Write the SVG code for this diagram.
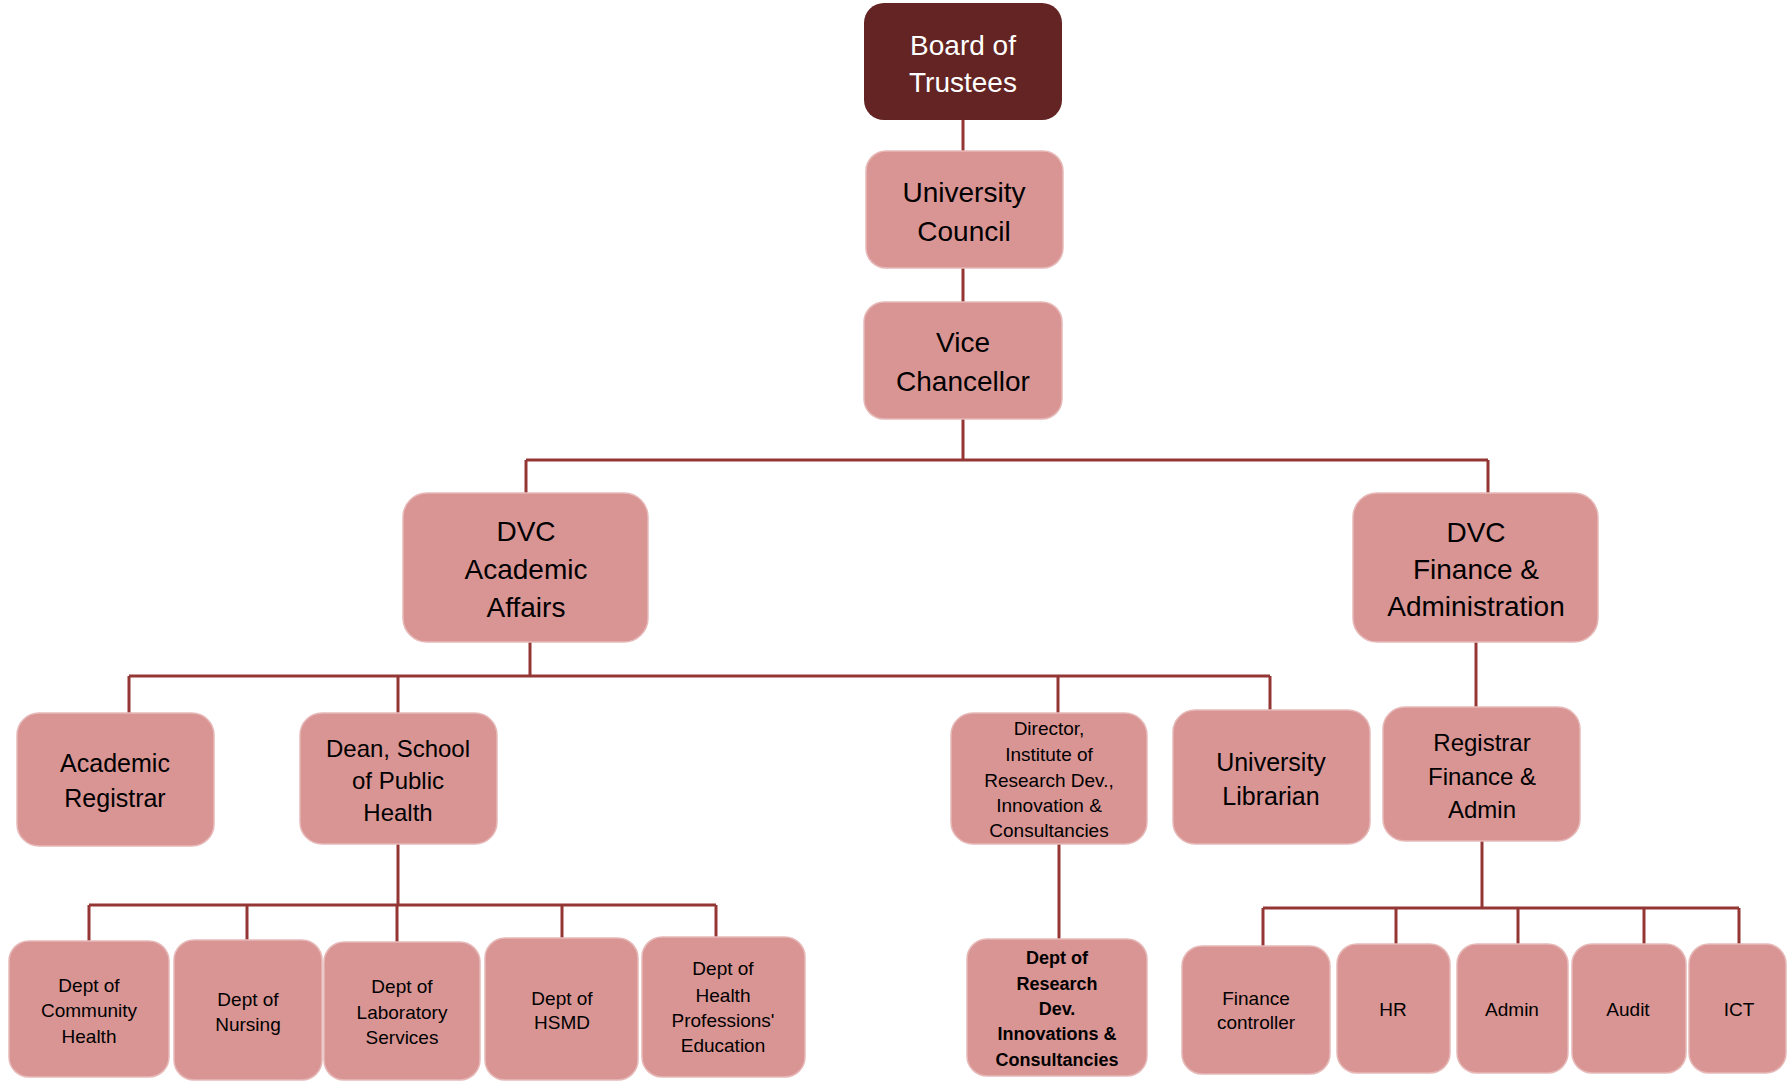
<svg xmlns="http://www.w3.org/2000/svg" width="1787" height="1081" viewBox="0 0 1787 1081">
<style>
.n{fill:#d99594;stroke:#e6b9b8;stroke-width:1.5}
.d{fill:#632423}
text{font-family:"Liberation Sans",Arial,sans-serif;text-anchor:middle;fill:#000}
.w{fill:#fff}
.b{font-weight:bold}
#conn path{fill:none;stroke:#943634;stroke-width:3}
</style>
<rect width="1787" height="1081" fill="#fff"/>
<g id="conn">
<path d="M963 120V151M963 268V302M963 419V460M526 460H1488M526 460V493M1488 460V493"/>
<path d="M530 642V676M129 676H1270M129 676V713M398 676V713M1058 676V713M1270 676V710"/>
<path d="M1476 642V707"/>
<path d="M398 844V905M89 905H716M89 905V941M247 905V940M397 905V942M562 905V938M716 905V937"/>
<path d="M1059 844V939"/>
<path d="M1482 841V908M1263 908H1739M1263 908V946M1396 908V944M1518 908V944M1644 908V944M1739 908V944"/>
</g>
<g id="board"><rect class="d" x="864" y="3" width="198" height="117" rx="20"/><text class="w" font-size="28"><tspan x="963" y="55">Board of</tspan><tspan x="963" y="92">Trustees</tspan></text></g>
<g id="uc"><rect class="n" x="866" y="151" width="197" height="117" rx="20"/><text font-size="28"><tspan x="964" y="202">University</tspan><tspan x="964" y="241">Council</tspan></text></g>
<g id="vc"><rect class="n" x="864" y="302" width="198" height="117" rx="20"/><text font-size="28"><tspan x="963" y="352">Vice</tspan><tspan x="963" y="391">Chancellor</tspan></text></g>
<g id="dvcaa"><rect class="n" x="403" y="493" width="245" height="149" rx="24"/><text font-size="28"><tspan x="526" y="541">DVC</tspan><tspan x="526" y="579">Academic</tspan><tspan x="526" y="617">Affairs</tspan></text></g>
<g id="dvcfa"><rect class="n" x="1353" y="493" width="245" height="149" rx="24"/><text font-size="28"><tspan x="1476" y="542">DVC</tspan><tspan x="1476" y="579">Finance &amp;</tspan><tspan x="1476" y="616">Administration</tspan></text></g>
<g id="ar"><rect class="n" x="17" y="713" width="197" height="133" rx="22"/><text font-size="25"><tspan x="115" y="772">Academic</tspan><tspan x="115" y="807">Registrar</tspan></text></g>
<g id="dean"><rect class="n" x="300" y="713" width="197" height="131" rx="22"/><text font-size="24"><tspan x="398" y="757">Dean, School</tspan><tspan x="398" y="789">of Public</tspan><tspan x="398" y="821">Health</tspan></text></g>
<g id="dir"><rect class="n" x="951" y="713" width="196" height="131" rx="22"/><text font-size="19"><tspan x="1049" y="735">Director,</tspan><tspan x="1049" y="761">Institute of</tspan><tspan x="1049" y="787">Research Dev.,</tspan><tspan x="1049" y="812">Innovation &amp;</tspan><tspan x="1049" y="837">Consultancies</tspan></text></g>
<g id="lib"><rect class="n" x="1173" y="710" width="197" height="134" rx="22"/><text font-size="25"><tspan x="1271" y="771">University</tspan><tspan x="1271" y="805">Librarian</tspan></text></g>
<g id="rfa"><rect class="n" x="1383" y="707" width="197" height="134" rx="22"/><text font-size="24"><tspan x="1482" y="751">Registrar</tspan><tspan x="1482" y="785">Finance &amp;</tspan><tspan x="1482" y="818">Admin</tspan></text></g>
<g id="ch"><rect class="n" x="9" y="941" width="160" height="136" rx="20"/><text font-size="19"><tspan x="89" y="992">Dept of</tspan><tspan x="89" y="1017">Community</tspan><tspan x="89" y="1043">Health</tspan></text></g>
<g id="nur"><rect class="n" x="174" y="940" width="148" height="140" rx="20"/><text font-size="19"><tspan x="248" y="1006">Dept of</tspan><tspan x="248" y="1031">Nursing</tspan></text></g>
<g id="lab"><rect class="n" x="324" y="942" width="156" height="138" rx="20"/><text font-size="19"><tspan x="402" y="993">Dept of</tspan><tspan x="402" y="1019">Laboratory</tspan><tspan x="402" y="1044">Services</tspan></text></g>
<g id="hsmd"><rect class="n" x="485" y="938" width="153" height="142" rx="20"/><text font-size="19"><tspan x="562" y="1005">Dept of</tspan><tspan x="562" y="1029">HSMD</tspan></text></g>
<g id="hpe"><rect class="n" x="642" y="937" width="163" height="140" rx="20"/><text font-size="19"><tspan x="723" y="975">Dept of</tspan><tspan x="723" y="1002">Health</tspan><tspan x="723" y="1027">Professions'</tspan><tspan x="723" y="1052">Education</tspan></text></g>
<g id="rdi"><rect class="n" x="967" y="939" width="180" height="137" rx="20"/><text class="b" font-size="18"><tspan x="1057" y="964">Dept of</tspan><tspan x="1057" y="990">Research</tspan><tspan x="1057" y="1015">Dev.</tspan><tspan x="1057" y="1040">Innovations &amp;</tspan><tspan x="1057" y="1066">Consultancies</tspan></text></g>
<g id="fc"><rect class="n" x="1182" y="946" width="148" height="128" rx="20"/><text font-size="19"><tspan x="1256" y="1005">Finance</tspan><tspan x="1256" y="1029">controller</tspan></text></g>
<g id="hr"><rect class="n" x="1337" y="944" width="113" height="129" rx="20"/><text font-size="19" x="1393" y="1016">HR</text></g>
<g id="admin"><rect class="n" x="1457" y="944" width="111" height="129" rx="20"/><text font-size="19" x="1512" y="1016">Admin</text></g>
<g id="audit"><rect class="n" x="1572" y="944" width="114" height="129" rx="20"/><text font-size="19" x="1628" y="1016">Audit</text></g>
<g id="ict"><rect class="n" x="1689" y="944" width="97" height="129" rx="20"/><text font-size="19" x="1739" y="1016">ICT</text></g>
</svg>
